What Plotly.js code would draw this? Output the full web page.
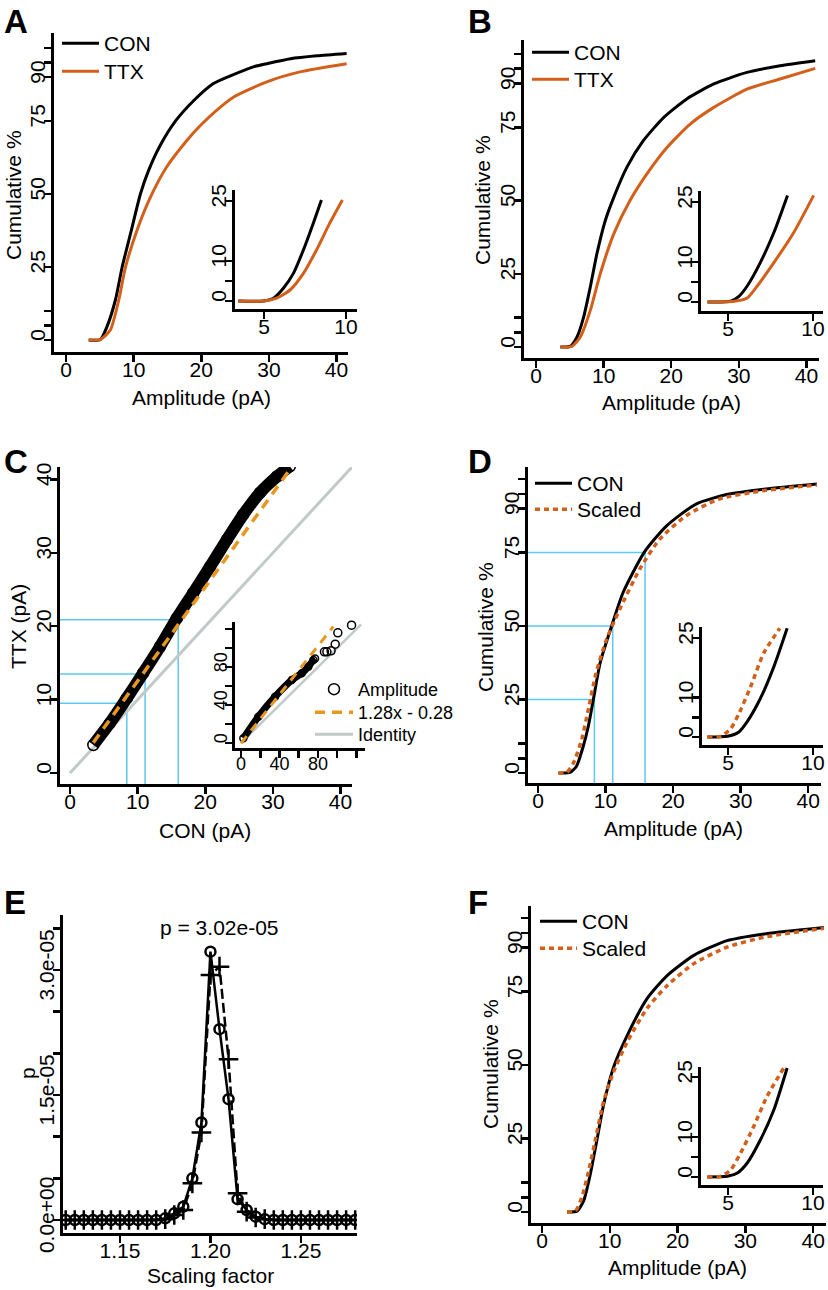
<!DOCTYPE html>
<html><head><meta charset="utf-8">
<script src="https://cdn.plot.ly/plotly-3.0.1.min.js"></script>
<style>html,body{margin:0;padding:0;background:#fff}#plot{width:828px;height:1290px}</style>
</head><body><div id="plot"></div>
<script>
// ---------------- DATA ----------------
// Panel A: cumulative distributions (Amplitude pA, cumulative %)
const aConX = [3.35,5.1,6.06,7.3,8.3,9.6,11.0,12.2,13.9,16.2,18.9,21.8,24.3,27.7,29.7,33.2,37.1,41.5];
const aConY = [0,0.2,4.6,13.7,25,37,50,58,66.5,75,82,87.8,90.4,93.5,94.6,96.3,97.3,98.1];
const aTtxX = [3.35,5.1,6.55,7.8,8.8,10.5,12.5,14.9,17.9,19.9,22.3,24.8,29.7,34.6,41.5];
const aTtxY = [0,0.2,3.4,13.7,25,37.6,49,59.3,68.4,73.5,78.7,83.2,88.4,91.8,94.6];
const aInConX = [3.43,4.96,5.57,6.18,6.79,7.4,8.0,8.5];
const aInConY = [0,0,0.7,3.2,6.9,12.75,19.4,25.25];
const aInTtxX = [3.43,5.0,5.77,6.59,7.4,8.2,9.0,9.78];
const aInTtxY = [0,0,0.7,2.75,6.9,12.75,19.4,25.25];
// Panel B
const bConX = [3.6,5.07,6.06,7.04,8.03,9.0,10.25,11.5,13.45,15.9,18.9,22.3,26.3,31.2,36.1,41.3];
const bConY = [0,0.2,3.4,10.2,20.5,31.8,43.2,51.1,61.4,70.5,78.4,84.7,89.8,93.75,96,97.7];
const bTtxX = [3.6,5.3,6.55,8.03,9.5,11.5,13.9,16.4,19.4,22.8,26.3,31.2,36.1,41.3];
const bTtxY = [0,0.2,3.4,12.5,25,38.6,50,59.1,68.2,76.1,81.8,88,91.5,95.1];
const bInConX = [3.79,5.16,5.64,6.13,6.9,7.7,8.5];
const bInConY = [0,0.17,1.4,4,9.85,17.4,26.7];
const bInTtxX = [3.79,5.35,6.13,6.72,7.7,8.87,10.04];
const bInTtxY = [0,0.17,1,4,9.85,17.4,26.7];
// Panel C: quantile-quantile (CON pA vs TTX pA)
const qqConX = [3.45,5.9,8.4,10.8,13.3,15.8,18.2,20.7,23.2,25.6,28.1,30.6,32.5];
const qqTtxY = [3.82,6.8,10.2,13.6,17.2,21.1,24.5,28.1,31.8,35.2,38.2,40.4,41.8];
const qqQuartCon = [8.4,11.1,16.0];
const qqQuartTtx = [9.5,13.5,20.9];
const fitLabel = "1.28x - 0.28";
const fitX = [3.45,32.7];
const fitY = [4.14,41.6];
const identX = [0,41.7];
const identY = [0,41.7];
const cInBandX = [2.4,18,35.4,52.8,63.2,70,75.3,77];
const cInBandY = [4.9,27.7,48.7,66.3,73.4,80.3,87.4,89];
const cInTailX = [86.8,89.3,93.7,98,100.7,115];
const cInTailY = [96,96,97,104,116,124];
const cInFitX = [0,96];
const cInFitY = [-0.28,122.6];
const cInIdX = [0,125];
const cInIdY = [0,125];
// Panel D
const dConX = [3.04,4.75,5.7,6.7,7.45,8.2,9.2,10.9,12.6,15.7,19,23.4,28.3,33.7,41.3];
const dConY = [0,0.2,2.3,9.1,15.9,25,37.5,50,61.4,75,84,91.5,94.9,96.6,98.3];
const dScX = [3.04,4.26,5.25,6.47,7.45,8.6,10.15,12.1,15.05,18,21.9,26.8,33.2,41.3];
const dScY = [0,0.2,3.4,11.4,21.6,34,45.5,55.7,69.3,79.5,87.5,93.2,96,98];
const dQuartX = [8.35,11.06,15.85];
const dQuartY = [25,50,75];
const dInConX = [3.79,4.96,5.64,6.13,6.91,7.7,8.48];
const dInConY = [0,0.2,1.3,3.9,9.8,17.8,27.5];
const dInScX = [3.79,4.57,5.16,5.64,6.33,7.1,8.05];
const dInScY = [0,0.2,2.1,5.9,12.7,21.2,27.5];
// Panel E: p value vs scaling factor
const eScale = [1.120,1.125,1.130,1.135,1.140,1.145,1.150,1.155,1.160,1.165,1.170,1.175,1.180,1.185,1.190,1.195,1.200,1.205,1.210,1.215,1.220,1.225,1.230,1.235,1.240,1.245,1.250,1.255,1.260,1.265,1.270,1.275,1.280];
const eCirc = [0,0,0,0,0,0,0,0,0,0,0,0.02e-5,0.08e-5,0.16e-5,0.50e-5,1.17e-5,3.22e-5,2.29e-5,1.45e-5,0.25e-5,0.12e-5,0.04e-5,0.01e-5,0,0,0,0,0,0,0,0,0,0];
const ePlus = [0,0,0,0,0,0,0,0,0,0,0,0.01e-5,0.06e-5,0.12e-5,0.44e-5,1.05e-5,2.94e-5,3.04e-5,1.93e-5,0.32e-5,0.10e-5,0.03e-5,0.01e-5,0,0,0,0,0,0,0,0,0,0];
const eTitle = "p = 3.02e-05";
// Panel F
const fConX = [3.7,5.17,6.16,7.14,8.13,9.1,10.6,12.6,15.5,18.5,22.4,27.3,32.8,41.6];
const fConY = [0,0.3,3.9,13,24.8,36.6,49.5,60.2,72.6,80.5,87.3,92.3,94.6,96.8];
const fScX = [3.7,4.93,5.9,6.9,7.9,9.1,10.6,12.6,15.5,18.5,22.4,27.3,32.8,41.6];
const fScY = [0,0.3,5.1,14.1,24.8,37.7,47.9,58,69.3,77.1,84.5,90.1,93.5,96.5];
const fInConX = [3.79,4.96,5.55,6.13,6.91,7.7,8.48];
const fInConY = [0,0.17,1,3.5,9.3,16.8,27.25];
const fInScX = [3.79,4.57,5.16,5.74,6.52,7.3,8.28];
const fInScY = [0,0.17,1.8,6,12.7,20.2,27.25];

// tick labels
const cumTickVals = [0,5,10,25,50,75,90,95,100];
const cumTickText = ["0","","","25","50","75","90","",""];
const ampTickVals = [0,10,20,30,40];
const inYVals = [0,5,10,25];
const inYText = ["0","","10","25"];
const inXVals = [5,10];
const cInVals = [0,20,40,60,80,100,120];
const cInText = ["0","","40","","80","",""];
const eYVals = [0,0.5e-5,1.0e-5,1.5e-5,2.0e-5,2.5e-5,3.0e-5,3.5e-5];
const eYText = ["0.0e+00","","","1.5e-05","","","3.0e-05",""];
const eXVals = [1.15,1.20,1.25];

// ---------------- STYLE ----------------
const W = 828, H = 1290;
const FONT = "Liberation Sans, Arial, Helvetica, sans-serif";
const BLACK = "#000000", ORANGE = "#D2601A", ORANGE2 = "#E8961E", GREY = "#C2C9C9", BLUE = "#5CC9F2";

const layout = {
  width: W, height: H, margin: {l:0,r:0,t:0,b:0},
  paper_bgcolor: "#fff", plot_bgcolor: "rgba(0,0,0,0)",
  font: {family: FONT, size: 21, color: "#000"},
  showlegend: true, annotations: []
};

function axis(pxA, pxB, total, isY, range, tv, tt, fs, anchor) {
  const d = isY ? [1 - pxB/total, 1 - pxA/total] : [pxA/total, pxB/total];
  const o = {
    domain: d, range: range, anchor: anchor, showgrid: false, zeroline: false,
    showline: true, linecolor: BLACK, linewidth: 3,
    ticks: "outside", ticklen: 7, tickwidth: 2.5, tickcolor: BLACK,
    tickmode: "array", tickvals: tv, ticktext: tt || tv.map(String),
    tickfont: {family: FONT, size: fs || 21, color: "#000"},
    fixedrange: true, automargin: false
  };
  if (isY) { o.tickangle = -90; o.ticklabelstandoff = -9; o.ticklabelshift = -2; }
  else { o.ticklabelstandoff = -10; }
  return o;
}
let n = 0;
function panel(xl, xr, yt, yb, xr_, yr_, xtv, xtt, ytv, ytt, fs) {
  n++;
  const xs = n === 1 ? "xaxis" : "xaxis" + n;
  const ys = n === 1 ? "yaxis" : "yaxis" + n;
  layout[xs] = axis(xl, xr, W, false, xr_, xtv, xtt, fs, "y" + n);
  layout[ys] = axis(yt, yb, H, true, yr_, ytv, ytt, fs, "x" + n);
  return {x: "x" + n, y: "y" + n, xr: xr_, yr: yr_};
}
const P = {};
P.A  = panel(54, 348, 33, 352, [-1.78, 41.7], [-4.1, 105.1], ampTickVals, null, cumTickVals, cumTickText);
P.Ai = panel(235, 357, 190, 309, [3.23, 10.67], [-2, 27.75], inXVals, null, inYVals, inYText);
P.B  = panel(524, 819, 40, 358, [-1.78, 41.86], [-3.75, 104.8], ampTickVals, null, cumTickVals, cumTickText);
P.Bi = panel(701, 823, 191, 311, [3.41, 10.59], [-2.27, 27.8], inXVals, null, inYVals, inYText);
P.C  = panel(60, 352, 467, 784, [-1.48, 41.7], [-1.5, 41.7], ampTickVals, null, ampTickVals, null);
P.Ci = panel(235, 365, 622, 748, [-6.3, 129], [-5.3, 127.4], cInVals, cInText, cInVals, cInText, 18);
P.D  = panel(528, 821, 467, 783, [-1.48, 41.9], [-3.4, 104.1], ampTickVals, null, cumTickVals, cumTickText);
P.Di = panel(702, 823, 627, 745, [3.47, 10.59], [-2.0, 27.8], inXVals, null, inYVals, inYText);
P.E  = panel(63, 357, 915, 1233, [1.1185, 1.281], [-0.156e-5, 3.66e-5], eXVals, ["1.15","1.20","1.25"], eYVals, eYText);
P.F  = panel(531, 826, 906, 1223, [-1.62, 41.9], [-3.74, 104.1], ampTickVals, null, cumTickVals, cumTickText);
P.Fi = panel(701, 823, 1067, 1185, [3.41, 10.59], [-2, 27.5], inXVals, null, inYVals, inYText);

const traces = [];
function line(p, x, y, color, width, dash, name, legend, shape) {
  traces.push({type: "scatter", mode: "lines", x: x, y: y, xaxis: p.x, yaxis: p.y,
    line: {color: color, width: width, dash: dash || "solid", shape: shape || "spline", smoothing: 0.6},
    name: name || "", showlegend: !!legend, legend: legend || "legend", hoverinfo: "skip"});
}
// A
line(P.A, aConX, aConY, BLACK, 3, null, "CON", "legend");
line(P.A, aTtxX, aTtxY, ORANGE, 3, null, "TTX", "legend2");
line(P.Ai, aInConX, aInConY, BLACK, 3);
line(P.Ai, aInTtxX, aInTtxY, ORANGE, 3);
// B
line(P.B, bConX, bConY, BLACK, 3, null, "CON", "legend3");
line(P.B, bTtxX, bTtxY, ORANGE, 3, null, "TTX", "legend4");
line(P.Bi, bInConX, bInConY, BLACK, 3);
line(P.Bi, bInTtxX, bInTtxY, ORANGE, 3);
// C quartile guide lines (from axis edge to quartile point)
qqQuartCon.forEach((q, i) => {
  line(P.C, [P.C.xr[0], q, q], [qqQuartTtx[i], qqQuartTtx[i], P.C.yr[0]], BLUE, 1.5, null, null, null, "linear");
});
line(P.C, identX, identY, GREY, 3, null, "Identity", "legend7", "linear");
traces.push({type: "scatter", mode: "lines", x: qqConX, y: qqTtxY, xaxis: P.C.x, yaxis: P.C.y,
  line: {color: BLACK, width: 12, shape: "spline", smoothing: 0.5}, showlegend: false, hoverinfo: "skip"});
traces.push({type: "scatter", mode: "markers", x: qqConX, y: qqTtxY, xaxis: P.C.x, yaxis: P.C.y,
  marker: {symbol: "circle-open", size: 11, color: BLACK, line: {width: 1.5, color: BLACK}},
  name: "Amplitude", showlegend: true, legend: "legend5", hoverinfo: "skip"});
line(P.C, fitX, fitY, ORANGE2, 3.5, "10px,7px", fitLabel, "legend6", "linear");
// C inset
line(P.Ci, cInIdX, cInIdY, GREY, 2.5, null, null, null, "linear");
traces.push({type: "scatter", mode: "lines+markers", x: cInBandX, y: cInBandY, xaxis: P.Ci.x, yaxis: P.Ci.y,
  line: {color: BLACK, width: 7, shape: "spline", smoothing: 0.5}, marker: {symbol: "circle-open", size: 7, color: BLACK, line: {width: 1.5}},
  showlegend: false, hoverinfo: "skip"});
traces.push({type: "scatter", mode: "markers", x: cInTailX, y: cInTailY, xaxis: P.Ci.x, yaxis: P.Ci.y, cliponaxis: false,
  marker: {symbol: "circle-open", size: 8, color: BLACK, line: {width: 1.5}}, showlegend: false, hoverinfo: "skip"});
line(P.Ci, cInFitX, cInFitY, ORANGE2, 3, "9px,7px", null, null, "linear");
// D
dQuartX.forEach((q, i) => {
  line(P.D, [P.D.xr[0], q, q], [dQuartY[i], dQuartY[i], P.D.yr[0]], BLUE, 1.5, null, null, null, "linear");
});
line(P.D, dConX, dConY, BLACK, 3, null, "CON", "legend8");
line(P.D, dScX, dScY, ORANGE, 3.5, "5px,4px", "Scaled", "legend9");
line(P.Di, dInConX, dInConY, BLACK, 3);
line(P.Di, dInScX, dInScY, ORANGE, 3.5, "5px,4px");
// E
traces.push({type: "scatter", mode: "lines+markers", x: eScale, y: eCirc, xaxis: P.E.x, yaxis: P.E.y,
  line: {color: BLACK, width: 2.5}, marker: {symbol: "circle-open", size: 10, color: BLACK, line: {width: 2.5}},
  showlegend: false, hoverinfo: "skip"});
traces.push({type: "scatter", mode: "lines+markers", x: eScale, y: ePlus, xaxis: P.E.x, yaxis: P.E.y,
  line: {color: BLACK, width: 2.5, dash: "10px,4px"}, marker: {symbol: "cross-thin", size: 14, color: BLACK, line: {width: 2.5, color: BLACK}},
  showlegend: false, hoverinfo: "skip"});
// F
line(P.F, fConX, fConY, BLACK, 3, null, "CON", "legend10");
line(P.F, fScX, fScY, ORANGE, 3.5, "5px,4px", "Scaled", "legend11");
line(P.Fi, fInConX, fInConY, BLACK, 3);
line(P.Fi, fInScX, fInScY, ORANGE, 3.5, "5px,4px");

// legends: one per entry, placed at the item's centre row
function leg(pxX, pxCenterY, fs, iw) {
  const off = (fs || 21) === 21 ? 20 : 17;
  return {x: pxX/W, y: 1 - (pxCenterY - off)/H, xanchor: "left", yanchor: "top", bgcolor: "rgba(0,0,0,0)",
    borderwidth: 0, font: {family: FONT, size: fs || 21, color: "#000"}, itemwidth: iw || 37};
}
layout.legend   = leg(57, 43);
layout.legend2  = leg(57, 71);
layout.legend3  = leg(527, 52);
layout.legend4  = leg(527, 79);
layout.legend5  = leg(310, 688, 18, 38);
layout.legend6  = leg(310, 711, 18, 38);
layout.legend7  = leg(310, 733, 18, 38);
layout.legend8  = leg(530, 483);
layout.legend9  = leg(530, 509);
layout.legend10 = leg(535, 921);
layout.legend11 = leg(535, 948);

// annotations: panel letters and axis titles
function ann(text, px, py, size, bold, angle) {
  layout.annotations.push({text: bold ? "<b>" + text + "</b>" : text, x: px/W, y: 1 - py/H,
    xref: "paper", yref: "paper", xanchor: "center", yanchor: "middle", showarrow: false,
    textangle: angle || 0, font: {family: FONT, size: size, color: "#000"}});
}
ann("A", 16, 21, 33, true); ann("B", 480, 21, 33, true);
ann("C", 16, 462, 33, true); ann("D", 480, 462, 33, true);
ann("E", 15, 902, 33, true); ann("F", 478, 903, 33, true);
ann("Cumulative %", 13, 195, 21, false, -90); ann("Amplitude (pA)", 201, 397, 21);
ann("Cumulative %", 482, 200, 21, false, -90); ann("Amplitude (pA)", 671, 403, 21);
ann("TTX (pA)", 19, 627, 21, false, -90); ann("CON (pA)", 205, 830, 21);
ann("Cumulative %", 486, 627, 21, false, -90); ann("Amplitude (pA)", 673, 828, 21);
ann("p", 27, 1073, 21, false, -90); ann("Scaling factor", 210, 1275, 21);
ann("Cumulative %", 490, 1064, 21, false, -90); ann("Amplitude (pA)", 677, 1267, 21);
ann(eTitle, 219, 927, 21);

Plotly.newPlot("plot", traces, layout, {staticPlot: true, displayModeBar: false});
</script></body></html>
